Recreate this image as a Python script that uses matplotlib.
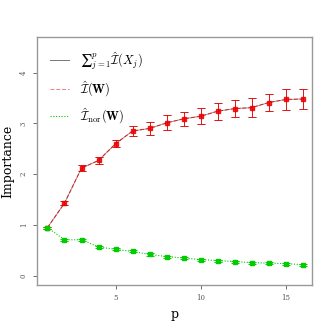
import matplotlib
matplotlib.use("Agg")
import matplotlib.pyplot as plt
import numpy as np
from matplotlib.lines import Line2D

plt.rcParams['mathtext.fontset'] = 'cm'
plt.rcParams['font.family'] = ['DejaVu Serif']

p = np.arange(1, 17)
sum_imp = [0.95, 1.43, 2.12, 2.27, 2.60, 2.85, 2.90, 3.01, 3.09, 3.14, 3.24, 3.29, 3.31, 3.41, 3.47, 3.48]
sum_err = [0.02, 0.04, 0.06, 0.06, 0.07, 0.10, 0.12, 0.15, 0.14, 0.16, 0.17, 0.17, 0.18, 0.17, 0.20, 0.19]
w_imp = sum_imp
w_err = sum_err
nor_imp = [0.95, 0.71, 0.71, 0.57, 0.52, 0.48, 0.42, 0.38, 0.35, 0.32, 0.30, 0.28, 0.26, 0.25, 0.24, 0.22]
nor_err = [0.02] * 16

labels = ['$\u2211_{j=1}^{p}\\hat{\\mathcal{I}}(X_j)$',
          r'$\hat{\mathcal{I}}(\mathbf{W})$',
          r'$\hat{\mathcal{I}}_{\mathrm{nor}}(\mathbf{W})$']

fig = plt.figure(figsize=(3.32, 3.32), dpi=100)
ax = fig.add_axes([0.111, 0.1416, 0.829, 0.747])

ax.errorbar(p, sum_imp, yerr=sum_err, color='#555555', lw=0.7, ls='-',
            elinewidth=0.7, capsize=3, capthick=0.7, alpha=0.6)
ax.errorbar(p, w_imp, yerr=w_err, color='#ee0000', lw=0.7, ls=(0, (4, 2)),
            elinewidth=0.7, capsize=3, capthick=0.7, marker='s', ms=3.5, alpha=0.85)
ax.errorbar(p, nor_imp, yerr=nor_err, color='#00cc00', lw=0.8, ls=(0, (1, 1.5)),
            elinewidth=0.7, capsize=3, capthick=0.7, marker='s', ms=3.5)

ax.set_xlim(0.376, 16.55)
ax.set_ylim(-0.18, 4.70)
ax.set_xticks([5, 10, 15])
ax.set_yticks([0, 1, 2, 3, 4])
ax.tick_params(axis='both', labelsize=5, colors='#555555', length=3, width=0.6)
for lab in ax.get_yticklabels():
    lab.set_rotation(90)
    lab.set_va('center')
for s in ax.spines.values():
    s.set_color('#999999')
    s.set_linewidth(1.0)

ax.set_xlabel('p', fontsize=9, family='serif')
ax.set_ylabel('Importance', fontsize=9, family='serif')

handles = [Line2D([], [], color='#777777', lw=0.7, ls='-'),
           Line2D([], [], color='#ff7777', lw=0.7, ls=(0, (4, 2))),
           Line2D([], [], color='#00cc00', lw=0.8, ls=(0, (1, 1.5)))]
ax.legend(handles, labels, loc='upper left', frameon=False, fontsize=9,
          handlelength=1.5, handletextpad=0.9, labelspacing=0.62, borderaxespad=0.65)

fig.savefig('out.png', dpi=100)
